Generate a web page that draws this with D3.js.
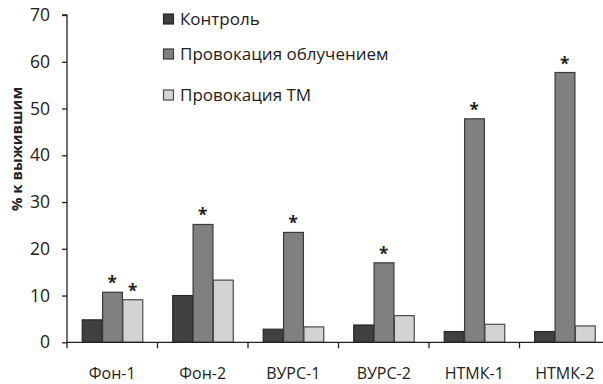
<!DOCTYPE html>
<html><head><meta charset="utf-8">
<script src="https://cdn.jsdelivr.net/npm/d3@7/dist/d3.min.js"></script>
<style>body{margin:0;background:#fff}svg{display:block}text{font-family:"Open Sans",sans-serif;fill:#222}</style>
</head><body><svg id="c" width="603" height="384"></svg>
<script>
const categories = ["Фон-1","Фон-2","ВУРС-1","ВУРС-2","НТМК-1","НТМК-2"];
const seriesNames = ["Контроль","Провокация облучением","Провокация ТМ"];
const control = [4.8, 10.0, 2.8, 3.7, 2.3, 2.3];
const irradiation = [10.7, 25.2, 23.5, 17.0, 47.8, 57.7];
const tm = [9.1, 13.3, 3.3, 5.7, 3.85, 3.5];
const significant = [[false,true,true],[false,true,false],[false,true,false],[false,true,false],[false,true,false],[false,true,false]];
const yTicks = [0,10,20,30,40,50,60,70];
const colors = ["#404040","#808080","#d3d3d3"];
const strokes = ["#262626","#3a3a3a","#4a4a4a"];

const svg = d3.select("#c");
const x0 = 67, x1 = 610, yBase = 342.3, yTop = 15;
const x = d3.scaleBand().domain(categories).range([x0, x1]).paddingInner(0.326).paddingOuter(0.163);
const xs = d3.scaleBand().domain([0,1,2]).range([0, x.bandwidth()]);
const y = d3.scaleLinear().domain([0,70]).range([yBase, yTop]);
const series = [control, irradiation, tm];

// bars
const g = svg.append("g");
categories.forEach((c, i) => {
  series.forEach((s, k) => {
    const v = s[i];
    g.append("rect")
      .attr("x", x(c) + xs(k) + 0.5)
      .attr("y", y(v))
      .attr("width", xs.bandwidth() - 0.5)
      .attr("height", yBase - y(v))
      .attr("fill", colors[k])
      .attr("stroke", strokes[k])
      .attr("stroke-width", 1.2);
    if (significant[i][k]) {
      g.append("text")
        .attr("x", x(c) + xs(k) + xs.bandwidth()/2)
        .attr("y", y(v) - 3)
        .attr("text-anchor", "middle")
        .attr("font-size", 17)
        .attr("font-weight", "bold")
        .attr("font-family", "DejaVu Sans")
        .text("*");
    }
  });
});

// y axis
const yAxis = svg.append("g").attr("transform", `translate(${x0},0)`)
  .call(d3.axisLeft(y).tickValues(yTicks).tickSize(5).tickPadding(12));
yAxis.select(".domain").attr("stroke", "#222").attr("stroke-width", 1.3).attr("d", `M-5,${yTop}H0V${yBase}`);
yAxis.selectAll(".tick line").attr("stroke", "#222").attr("stroke-width", 1.3);
yAxis.selectAll(".tick text").attr("font-size", 17.5).attr("font-family", "Open Sans").attr("fill", "#222");

// x axis
const bounds = categories.map(c => x(c) - x.step()*x.paddingOuter());
const xAxis = svg.append("g");
xAxis.append("line").attr("x1", x0).attr("x2", 603).attr("y1", yBase).attr("y2", yBase)
  .attr("stroke", "#222").attr("stroke-width", 1.3);
xAxis.selectAll("line.tk").data(bounds).join("line").attr("class","tk")
  .attr("x1", d => d).attr("x2", d => d).attr("y1", yBase).attr("y2", yBase + 6)
  .attr("stroke", "#222").attr("stroke-width", 1.3);
xAxis.selectAll("text").data(categories).join("text")
  .attr("x", d => x(d) + x.bandwidth()/2)
  .attr("y", 378.5)
  .attr("text-anchor", "middle")
  .attr("font-size", 16)
  .text(d => d);

// y title
svg.append("text")
  .attr("transform", "translate(22,149) rotate(-90)")
  .attr("text-anchor", "middle")
  .attr("font-size", 15)
  .attr("font-weight", "bold")
  .text("% к выжившим");

// legend
const legY = [19, 54, 95];
const leg = svg.append("g");
seriesNames.forEach((n, k) => {
  leg.append("rect").attr("x", 163.5).attr("y", legY[k] - 5).attr("width", 10).attr("height", 10)
    .attr("fill", colors[k]).attr("stroke", strokes[k]).attr("stroke-width", 1.2);
  leg.append("text").attr("x", 180).attr("y", legY[k] + 6).attr("font-size", 17).text(n);
});
</script></body></html>
